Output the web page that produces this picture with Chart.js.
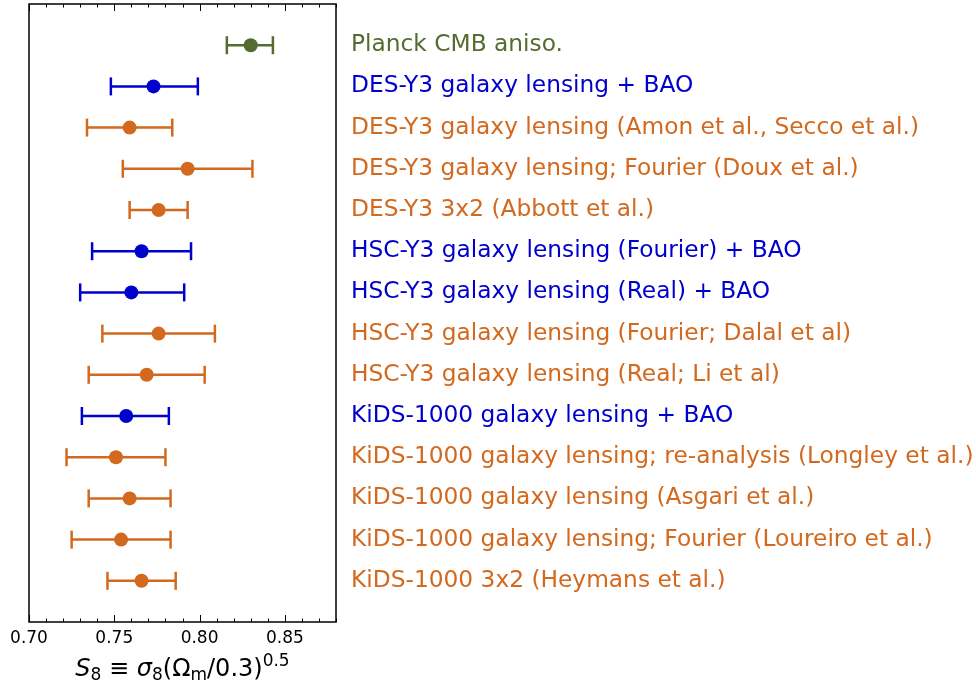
<!DOCTYPE html>
<html>
<head>
<meta charset="utf-8">
<script src="https://cdn.jsdelivr.net/npm/chart.js@4.4.0/dist/chart.umd.min.js"></script>
<style>
  html, body { margin: 0; padding: 0; background: #fff; }
  #wrap { width: 976px; height: 688px; position: relative; }
</style>
</head>
<body>
<div id="wrap"><canvas id="s8Chart"></canvas></div>
<script>
// Measurements, top row first
const labels = [
    'Planck CMB aniso.',
    'DES-Y3 galaxy lensing + BAO',
    'DES-Y3 galaxy lensing (Amon et al., Secco et al.)',
    'DES-Y3 galaxy lensing; Fourier (Doux et al.)',
    'DES-Y3 3x2 (Abbott et al.)',
    'HSC-Y3 galaxy lensing (Fourier) + BAO',
    'HSC-Y3 galaxy lensing (Real) + BAO',
    'HSC-Y3 galaxy lensing (Fourier; Dalal et al)',
    'HSC-Y3 galaxy lensing (Real; Li et al)',
    'KiDS-1000 galaxy lensing + BAO',
    'KiDS-1000 galaxy lensing; re-analysis (Longley et al.)',
    'KiDS-1000 galaxy lensing (Asgari et al.)',
    'KiDS-1000 galaxy lensing; Fourier (Loureiro et al.)',
    'KiDS-1000 3x2 (Heymans et al.)'
];
const s8Center = [0.830, 0.773, 0.759, 0.793, 0.776, 0.766, 0.760, 0.776, 0.769, 0.757, 0.751, 0.759, 0.754, 0.766];
const s8Low    = [0.816, 0.748, 0.734, 0.755, 0.759, 0.737, 0.730, 0.743, 0.735, 0.731, 0.722, 0.735, 0.725, 0.746];
const s8High   = [0.843, 0.799, 0.784, 0.831, 0.793, 0.795, 0.791, 0.809, 0.803, 0.782, 0.780, 0.783, 0.783, 0.786];
const kind     = ['cmb', 'bao', 'wl', 'wl', 'wl', 'bao', 'bao', 'wl', 'wl', 'bao', 'wl', 'wl', 'wl', 'wl'];

const xMin = 0.70;
const xMax = 0.88;

const colorOf = {
    cmb: '#556b2f',
    bao: '#0000cd',
    wl: '#d2691e'
};
const rowColors = kind.map(k => colorOf[k]);

Chart.defaults.font.family = "'DejaVu Sans', sans-serif";
Chart.defaults.color = '#000';

// error bar segments, one dataset per row
const errDatasets = labels.map((lab, i) => ({
    label: lab,
    data: [{x: s8Low[i], y: i}, {x: s8High[i], y: i}],
    showLine: true,
    borderColor: rowColors[i],
    borderWidth: 2.5,
    pointStyle: 'line',
    rotation: 90,
    pointRadius: 9,
    pointHoverRadius: 9,
    pointBorderWidth: 2.5,
    pointBorderColor: rowColors[i],
    order: 1
}));

const centerDataset = {
    label: 'S8',
    data: s8Center.map((v, i) => ({x: v, y: i})),
    pointBackgroundColor: rowColors,
    pointBorderWidth: 0,
    pointRadius: 7,
    pointHoverRadius: 7,
    showLine: false,
    order: 0
};

// box around the plot + inward ticks on top and bottom
const frame = {
    id: 'frame',
    afterDraw(chart) {
        const ctx = chart.ctx;
        const a = chart.chartArea;
        const xs = chart.scales.x;
        ctx.save();
        ctx.strokeStyle = '#000';
        ctx.lineWidth = 1;
        xs.ticks.forEach(t => {
            const px = Math.round(xs.getPixelForValue(t.value)) + 0.5;
            const major = Math.abs(t.value * 20 - Math.round(t.value * 20)) < 1e-6;
            const len = major ? 7 : 3.5;
            ctx.beginPath();
            ctx.moveTo(px, a.bottom);
            ctx.lineTo(px, a.bottom - len);
            ctx.moveTo(px, a.top);
            ctx.lineTo(px, a.top + len);
            ctx.stroke();
        });
        ctx.lineWidth = 1.5;
        ctx.strokeRect(a.left, a.top, a.right - a.left, a.bottom - a.top);

        // x axis title: S8 = sigma8 (Omega_m/0.3)^0.5
        const big = 24, small = 17;
        const parts = [
            {t: 'S', f: 'italic ' + big + 'px', dy: 0},
            {t: '8', f: small + 'px', dy: 4},
            {t: ' \u2261 ', f: big + 'px', dy: 0},
            {t: '\u03c3', f: 'italic ' + big + 'px', dy: 0},
            {t: '8', f: small + 'px', dy: 4},
            {t: '(\u03a9', f: big + 'px', dy: 0},
            {t: 'm', f: small + 'px', dy: 4},
            {t: '/0.3)', f: big + 'px', dy: 0},
            {t: '0.5', f: small + 'px', dy: -10}
        ];
        const fam = " 'DejaVu Sans', sans-serif";
        let total = 0;
        parts.forEach(p => {
            ctx.font = p.f + fam;
            p.w = ctx.measureText(p.t).width;
            total += p.w;
        });
        let cx = (a.left + a.right) / 2 - total / 2;
        const base = a.bottom + 54;
        ctx.fillStyle = '#000';
        ctx.textBaseline = 'alphabetic';
        ctx.textAlign = 'left';
        parts.forEach(p => {
            ctx.font = p.f + fam;
            ctx.fillText(p.t, cx, base + p.dy);
            cx += p.w;
        });
        ctx.restore();
    }
};

new Chart(document.getElementById('s8Chart'), {
    type: 'scatter',
    data: {
        datasets: [centerDataset].concat(errDatasets)
    },
    options: {
        responsive: true,
        maintainAspectRatio: false,
        animation: false,
        layout: {
            autoPadding: false,
            padding: {left: 29, top: 4, right: 0, bottom: 0}
        },
        scales: {
            x: {
                type: 'linear',
                min: xMin,
                max: xMax,
                grid: {display: false, drawTicks: false},
                border: {display: false},
                afterFit(scale) {
                    scale.height = 66;
                    scale.paddingLeft = 0;
                    scale.paddingRight = 0;
                },
                ticks: {
                    stepSize: 0.01,
                    autoSkip: false,
                    maxRotation: 0,
                    padding: 6,
                    color: '#000',
                    font: {size: 17},
                    callback(v) {
                        const major = Math.abs(v * 20 - Math.round(v * 20)) < 1e-6;
                        return major ? v.toFixed(2) : '';
                    }
                }
            },
            y: {
                type: 'linear',
                position: 'right',
                reverse: true,
                min: -1,
                max: 14,
                grid: {display: false, drawTicks: false},
                border: {display: false},
                afterFit(scale) {
                    scale.width = 640;
                    scale.paddingTop = 0;
                    scale.paddingBottom = 0;
                },
                ticks: {
                    stepSize: 1,
                    autoSkip: false,
                    crossAlign: 'near',
                    padding: 15,
                    font: {size: 23.3},
                    color: ctx => {
                        const v = ctx.tick ? ctx.tick.value : -1;
                        return rowColors[v] || '#000';
                    },
                    callback(v) {
                        return labels[v] !== undefined ? labels[v] : '';
                    }
                }
            }
        },
        plugins: {
            legend: {display: false},
            tooltip: {enabled: false}
        }
    },
    plugins: [frame]
});
</script>
</body>
</html>
